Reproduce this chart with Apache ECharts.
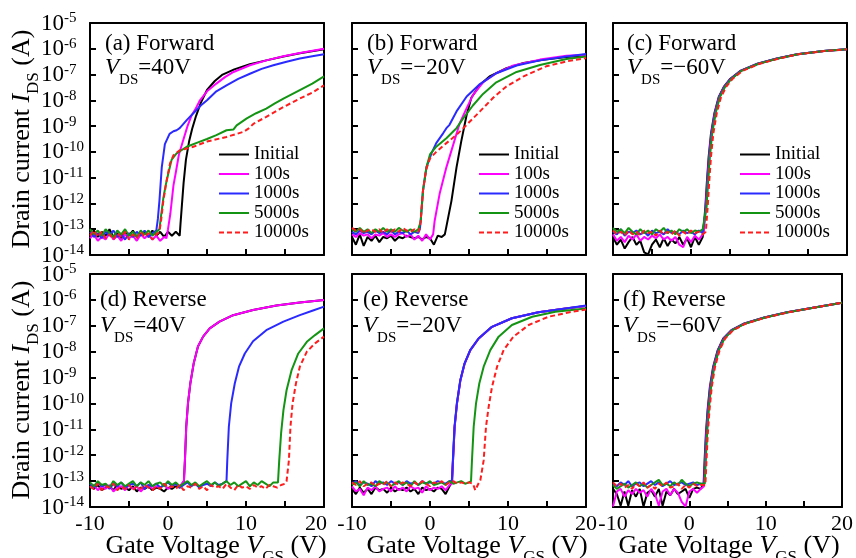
<!DOCTYPE html>
<html><head><meta charset="utf-8">
<script src="https://cdn.jsdelivr.net/npm/echarts@6/dist/echarts.min.js"></script>
<style>html,body{margin:0;padding:0;background:#fff}#c{width:856px;height:558px}</style>
</head><body><div id="c"></div>
<script>
// ---- sample positions (V) for the off-state floor ----
const floorV = [-10,-9.5,-9,-8.5,-8,-7.5,-7,-6.5,-6,-5.5,-5,-4.5,-4,-3.5,-3,-2.5,-2,-1.5,-1,-0.5,0,0.5,1,1.5,2,2.5,3,3.5,4,4.5,5,5.5,6,6.5,7,7.5,8,8.5,9,9.5,10,10.5,11,11.5,12,12.5,13,13.5,14,14.5,15];
const seriesNames = ['Initial','100s','1000s','5000s','10000s'];
const xTickLabels = ['-10','0','10','20'];
// values: log10(I_DS [A])
// (a) Forward VDS=40V
const aInitF = [-13.2,-13.05,-13.3,-13.1,-13.25,-13.0,-13.3,-13.15,-13.35,-13.1,-13.25,-13.05,-13.3,-13.2,-13.1,-13.3,-13.05,-13.25,-13.1,-13.3,-13.1,-13.25,-13.1,-13.25];
const aInitR = [[1.6,-12.8],[1.8,-12.0],[2.0,-11.2],[2.3,-10.3],[2.7,-9.6],[3.1,-9.1],[3.6,-8.6],[4.2,-8.1],[5,-7.6],[6,-7.25],[7,-7.0],[8.5,-6.8],[10.5,-6.6],[12.6,-6.45],[14.8,-6.3],[16.9,-6.17],[20,-6.02]];
const a100F = [-13.35,-13.2,-13.45,-13.3,-13.4,-13.15,-13.4,-13.25,-13.45,-13.2,-13.35,-13.25,-13.45,-13.2,-13.35,-13.2,-13.4,-13.25,-13.45,-13.3];
const a100R = [[-0.2,-13.35],[0,-13.0],[0.3,-12.4],[0.7,-11.3],[1.0,-10.8],[1.4,-10.1],[1.9,-9.6],[2.5,-9.0],[3.0,-8.6],[3.5,-8.35],[4.1,-8.0],[5,-7.65],[6.2,-7.35],[7.3,-7.1],[8.4,-6.9],[10.5,-6.64],[12.6,-6.45],[14.8,-6.29],[16.9,-6.16],[20,-6.0]];
const a1000F = [-13.1,-13.3,-13.15,-13.35,-13.1,-13.25,-13.05,-13.3,-13.2,-13.4,-13.15,-13.3,-13.1,-13.25,-13.05,-13.3,-13.15,-13.05];
const a1000R = [[-1.3,-12.6],[-1.1,-11.9],[-0.8,-10.6],[-0.4,-9.7],[0.2,-9.3],[0.7,-9.2],[1.1,-9.16],[1.5,-9.08],[2.4,-8.77],[3.25,-8.5],[4.2,-8.2],[5,-8.0],[6.2,-7.65],[7.5,-7.42],[9,-7.17],[10.5,-6.97],[12,-6.78],[13.5,-6.64],[15.2,-6.5],[16.9,-6.38],[18.5,-6.29],[20,-6.21]];
const a5000F = [-13.0,-13.2,-13.05,-13.25,-13.0,-13.15,-13.3,-13.05,-13.2,-13.0,-13.25,-13.1,-13.3,-13.05,-13.2,-13.05,-13.25,-13.1];
const a5000R = [[-1.1,-13.0],[-0.9,-12.5],[-0.6,-11.8],[-0.3,-11.3],[0.04,-10.84],[0.47,-10.3],[1.1,-10.06],[2.4,-9.8],[4.1,-9.6],[5,-9.5],[6.2,-9.35],[7.5,-9.16],[8.4,-9.13],[8.8,-8.97],[10.1,-8.7],[11.3,-8.5],[12.6,-8.32],[13.7,-8.12],[14.8,-7.93],[16.9,-7.6],[18.5,-7.35],[20,-7.07]];
const a10000F = [-13.25,-13.05,-13.3,-13.1,-13.35,-13.2,-13.4,-13.15,-13.3,-13.1,-13.4,-13.2,-13.35,-13.1,-13.3,-13.15,-13.4,-13.2];
const a10000R = [[-1.1,-13.1],[-0.9,-12.7],[-0.6,-11.9],[-0.17,-11.1],[0.26,-10.45],[0.7,-10.13],[1.5,-9.94],[3.25,-9.8],[5,-9.6],[7.5,-9.42],[9.7,-9.22],[10.3,-9.1],[11,-8.9],[12.6,-8.64],[14.8,-8.26],[16.9,-7.93],[18.5,-7.7],[20,-7.42]];
// (b) Forward VDS=-20V
const bInitF = [-13.3,-13.6,-13.2,-13.65,-13.3,-13.45,-13.25,-13.5,-13.3,-13.35,-13.25,-13.45,-13.3,-13.35,-13.25,-13.3,-13.35,-13.3,-13.4,-13.3,-13.35,-13.6,-13.25,-13.3];
const bInitR = [[1.9,-13.2],[2.1,-12.9],[2.75,-11.9],[3.4,-10.6],[4.0,-9.6],[4.7,-8.56],[5.3,-7.9],[6.4,-7.4],[7.7,-7.06],[9.8,-6.75],[12,-6.55],[14.5,-6.43],[17.5,-6.32],[20,-6.25]];
const b100F = [-13.2,-13.3,-13.15,-13.25,-13.2,-13.35,-13.2,-13.25,-13.15,-13.3,-13.2,-13.3,-13.2,-13.15,-13.3,-13.2,-13.4,-13.25,-13.45,-13.2,-13.4];
const b100R = [[0.4,-13.2],[0.6,-12.67],[1.25,-11.6],[2.1,-10.6],[3.0,-9.7],[3.8,-8.9],[4.7,-8.3],[5.5,-7.8],[6.8,-7.3],[8.5,-6.95],[10.7,-6.65],[14.1,-6.42],[17.5,-6.27],[20,-6.23]];
const b1000F = [-13.1,-13.2,-13.05,-13.15,-13.1,-13.2,-13.05,-13.15,-13.1,-13.2,-13.05,-13.2,-13.1,-13.15,-13.05,-13.2,-13.1,-13.15];
const b1000R = [[-1.3,-13.0],[-1.2,-12.7],[-0.9,-11.5],[-0.46,-10.6],[0.2,-10.05],[0.8,-9.66],[1.7,-9.27],[2.1,-9.08],[2.5,-8.95],[3.4,-8.43],[4.7,-7.85],[6.4,-7.37],[8.5,-6.95],[11.1,-6.65],[14.1,-6.45],[17.5,-6.3],[20,-6.2]];
const b5000F = [-13.0,-13.1,-12.95,-13.1,-13.0,-13.15,-13.0,-13.1,-12.95,-13.1,-13.0,-13.1,-12.95,-13.05,-13.1,-13.0,-13.1,-13.0];
const b5000R = [[-1.3,-12.95],[-1.2,-12.7],[-0.9,-11.5],[-0.46,-10.6],[0.0,-10.1],[0.8,-9.8],[2.1,-9.47],[3.0,-9.2],[3.4,-9.08],[4.25,-8.7],[5.5,-8.2],[6.8,-7.75],[8.5,-7.3],[11.1,-6.9],[14.1,-6.63],[17.5,-6.4],[20,-6.3]];
const b10000F = [-12.95,-13.05,-13.0,-13.15,-13.05,-13.0,-13.1,-13.0,-13.15,-13.0,-13.1,-13.0,-13.1,-12.95,-13.05,-13.1,-13.0,-13.1];
const b10000R = [[-1.3,-12.95],[-1.2,-12.7],[-0.9,-11.5],[-0.5,-10.7],[0.0,-10.25],[0.8,-10.0],[2.1,-9.66],[3.4,-9.34],[4.7,-8.95],[6.4,-8.43],[8.1,-7.9],[9.8,-7.46],[12.0,-7.07],[14.9,-6.68],[17.5,-6.49],[20,-6.36]];
// (c) Forward VDS=-60V
const cInitF = [-13.3,-13.6,-13.4,-13.75,-13.5,-13.3,-13.6,-13.45,-13.9,-13.98,-13.6,-13.4,-13.7,-13.35,-13.65,-13.4,-13.55,-13.3,-13.6,-13.35,-13.7,-13.3,-13.6,-13.3];
const cInitR = [[1.6,-13.05],[1.84,-12.13],[2.05,-11.1],[2.26,-10.2],[2.56,-9.29],[3.0,-8.5],[3.55,-7.87],[4.2,-7.48],[5.04,-7.16],[6.3,-6.86],[8.5,-6.58],[11.0,-6.38],[13.6,-6.21],[17.0,-6.09],[20,-6.02]];
const c100F = [-13.2,-13.45,-13.3,-13.5,-13.25,-13.4,-13.2,-13.45,-13.3,-13.4,-13.25,-13.35,-13.2,-13.4,-13.3,-13.45,-13.3,-13.6,-13.7,-13.3,-13.5,-13.25,-13.4,-13.2];
const c100R = [[1.65,-13.1],[1.89,-12.13],[2.1,-11.1],[2.31,-10.2],[2.61,-9.29],[3.05,-8.5],[3.6,-7.87],[4.25,-7.48],[5.1,-7.16],[6.35,-6.86],[8.55,-6.58],[11.05,-6.38],[13.6,-6.21],[17.0,-6.09],[20,-6.02]];
const c1000F = [-13.1,-13.2,-13.0,-13.25,-13.1,-13.15,-13.05,-13.2,-13.1,-13.25,-13.05,-13.15,-13.1,-13.2,-13.0,-13.15,-13.1,-13.2,-13.05,-13.15,-13.1,-13.2,-13.05,-13.15];
const c1000R = [[1.7,-13.1],[1.94,-12.13],[2.15,-11.1],[2.36,-10.2],[2.66,-9.29],[3.1,-8.5],[3.65,-7.87],[4.3,-7.48],[5.14,-7.16],[6.4,-6.86],[8.6,-6.58],[11.1,-6.38],[13.7,-6.21],[17.0,-6.09],[20,-6.02]];
const c5000F = [-12.95,-13.1,-13.0,-13.15,-12.95,-13.1,-13.2,-13.0,-13.15,-13.05,-13.2,-13.0,-13.1,-12.95,-13.15,-13.05,-13.2,-13.0,-13.1,-13.0,-13.15,-13.05,-13.1,-13.0];
const c5000R = [[1.75,-13.05],[1.99,-12.13],[2.2,-11.1],[2.41,-10.2],[2.71,-9.29],[3.15,-8.5],[3.7,-7.87],[4.35,-7.48],[5.2,-7.16],[6.45,-6.86],[8.65,-6.58],[11.15,-6.38],[13.7,-6.21],[17.0,-6.09],[20,-6.02]];
const c10000F = [-13.05,-13.2,-13.1,-13.25,-13.05,-13.2,-13.1,-13.25,-13.05,-13.15,-13.1,-13.25,-13.05,-13.2,-13.1,-13.2,-13.05,-13.25,-13.1,-13.2,-13.05,-13.15,-13.1,-13.2];
const c10000R = [[1.9,-13.1],[2.14,-12.13],[2.35,-11.1],[2.56,-10.2],[2.86,-9.29],[3.3,-8.5],[3.85,-7.87],[4.5,-7.48],[5.35,-7.16],[6.6,-6.86],[8.8,-6.58],[11.3,-6.38],[13.8,-6.21],[17.1,-6.09],[20,-6.02]];
// (d) Reverse VDS=40V
const dInitF = [-13.2,-13.3,-13.15,-13.35,-13.25,-13.2,-13.35,-13.15,-13.3,-13.25,-13.35,-13.2,-13.4,-13.25,-13.3,-13.2,-13.35,-13.25,-13.3,-13.4,-13.25,-13.3,-13.2,-13.25];
const dInitR = [[2.04,-13.0],[2.17,-12.2],[2.34,-10.9],[2.56,-10.0],[2.86,-9.23],[3.29,-8.46],[3.84,-7.8],[4.5,-7.42],[5.35,-7.1],[6.6,-6.84],[8.35,-6.59],[10.9,-6.39],[13.9,-6.22],[16.9,-6.1],[20,-6.0]];
const d100F = [-13.25,-13.15,-13.35,-13.2,-13.3,-13.15,-13.4,-13.25,-13.2,-13.35,-13.15,-13.3,-13.2,-13.4,-13.25,-13.15,-13.3,-13.2,-13.25,-13.15,-13.3,-13.2,-13.1,-13.2];
const d100R = [[2.04,-13.0],[2.17,-12.2],[2.34,-10.9],[2.56,-10.0],[2.86,-9.23],[3.29,-8.46],[3.84,-7.8],[4.5,-7.42],[5.35,-7.1],[6.6,-6.84],[8.35,-6.59],[10.9,-6.39],[13.9,-6.22],[16.9,-6.1],[20,-6.0]];
const d1000F = [-13.1,-13.25,-13.05,-13.2,-13.15,-13.3,-13.1,-13.2,-13.05,-13.25,-13.15,-13.1,-13.2,-13.05,-13.3,-13.15,-13.2,-13.1,-13.25,-13.15,-13.05,-13.2,-13.1,-13.25,-13.15,-13.05,-13.2,-13.1,-13.25,-13.15,-13.1,-13.2,-13.05,-13.15,-13.1];
const d1000R = [[7.5,-13.0],[7.6,-12.2],[7.8,-10.9],[8.1,-10.0],[8.56,-9.23],[9.1,-8.58],[9.85,-8.07],[10.9,-7.6],[12.6,-7.17],[14.8,-6.84],[16.9,-6.59],[18.5,-6.42],[20,-6.26]];
const d5000F = [-13.05,-13.2,-13.0,-13.15,-13.1,-13.25,-13.0,-13.15,-13.05,-13.2,-13.1,-13.0,-13.2,-13.05,-13.15,-13.0,-13.2,-13.1,-13.05,-13.2,-13.0,-13.15,-13.05,-13.2,-13.1,-13.0,-13.15,-13.05,-13.2,-13.1,-13.0,-13.15,-13.05,-13.2,-13.1,-13.0,-13.15,-13.05,-13.2,-13.1,-13.0,-13.2,-13.05,-13.15,-13.0,-13.1,-13.2,-13.05];
const d5000R = [[14.1,-13.05],[14.26,-12.2],[14.5,-11.15],[14.8,-10.26],[15.2,-9.49],[15.85,-8.71],[16.7,-8.07],[17.8,-7.62],[18.85,-7.36],[20,-7.1]];
const d10000F = [-13.2,-13.3,-13.1,-13.35,-13.2,-13.25,-13.1,-13.35,-13.2,-13.3,-13.15,-13.35,-13.2,-13.3,-13.15,-13.25,-13.35,-13.2,-13.3,-13.1,-13.25,-13.2,-13.3,-13.15,-13.35,-13.2,-13.25,-13.1,-13.3,-13.2,-13.35,-13.15,-13.25,-13.2,-13.3,-13.1,-13.25,-13.35,-13.15,-13.25,-13.2,-13.3,-13.15,-13.25,-13.2,-13.3,-13.15,-13.2,-13.25,-13.15,-13.1];
const d10000R = [[15.2,-13.0],[15.4,-12.95],[15.5,-12.2],[15.7,-10.9],[15.97,-10.0],[16.4,-9.23],[16.9,-8.58],[17.8,-8.0],[18.85,-7.68],[20,-7.42]];
// (e) Reverse VDS=-20V
const eInitF = [-13.3,-13.5,-13.25,-13.45,-13.3,-13.5,-13.25,-13.35,-13.3,-13.45,-13.25,-13.4,-13.3,-13.35,-13.25,-13.4,-13.3,-13.5,-13.25,-13.35,-13.3,-13.4,-13.25,-13.3,-13.5,-13.2];
const eInitR = [[2.82,-13.05],[2.95,-12.2],[3.16,-10.9],[3.46,-10.0],[3.9,-9.1],[4.44,-8.46],[5.17,-7.94],[6.24,-7.49],[7.95,-7.04],[10.5,-6.71],[13.9,-6.48],[17.4,-6.33],[20,-6.24]];
const e100F = [-13.2,-13.4,-13.3,-13.55,-13.25,-13.35,-13.2,-13.4,-13.3,-13.25,-13.4,-13.2,-13.35,-13.25,-13.4,-13.2,-13.3,-13.25,-13.45,-13.2,-13.35,-13.25,-13.3,-13.2,-13.35,-13.15];
const e100R = [[2.82,-13.1],[2.95,-12.2],[3.16,-10.9],[3.46,-10.0],[3.9,-9.1],[4.44,-8.46],[5.17,-7.94],[6.24,-7.49],[7.95,-7.04],[10.5,-6.71],[13.9,-6.48],[17.4,-6.33],[20,-6.24]];
const e1000F = [-13.1,-13.0,-13.15,-13.05,-13.1,-13.2,-13.0,-13.1,-13.05,-13.15,-13.0,-13.1,-13.05,-13.15,-13.0,-13.1,-13.05,-13.15,-13.0,-13.1,-13.05,-13.1,-13.0,-13.05,-13.1,-13.0];
const e1000R = [[2.8,-13.0],[2.93,-12.2],[3.14,-10.9],[3.44,-10.0],[3.88,-9.1],[4.42,-8.46],[5.15,-7.94],[6.22,-7.49],[7.93,-7.04],[10.5,-6.71],[13.9,-6.48],[17.4,-6.33],[20,-6.22]];
const e5000F = [-13.15,-13.05,-13.2,-13.0,-13.15,-13.1,-13.2,-13.0,-13.1,-13.05,-13.2,-13.1,-13.0,-13.15,-13.05,-13.2,-13.0,-13.15,-13.05,-13.1,-13.0,-13.15,-13.1,-13.05,-13.15,-13.0,-13.1,-13.05,-13.0,-13.1,-13.05];
const e5000R = [[5.26,-13.0],[5.38,-12.2],[5.6,-10.9],[5.9,-10.0],[6.32,-9.23],[6.88,-8.58],[7.73,-7.94],[8.8,-7.42],[10.5,-6.97],[13.1,-6.65],[16.07,-6.46],[20,-6.33]];
const e10000F = [-13.05,-13.15,-13.0,-13.2,-13.1,-13.05,-13.2,-13.1,-13.15,-13.0,-13.2,-13.05,-13.15,-13.05,-13.1,-13.2,-13.05,-13.15,-13.0,-13.1,-13.2,-13.05,-13.1,-13.0,-13.15,-13.05,-13.0,-13.1,-13.05,-13.1,-13.05,-13.1];
const e10000R = [[5.8,-13.35],[6.2,-13.1],[6.45,-12.97],[6.67,-12.95],[6.88,-12.2],[7.18,-10.9],[7.52,-10.13],[7.95,-9.36],[8.6,-8.58],[9.44,-7.94],[10.7,-7.42],[12.65,-6.97],[15.2,-6.65],[18.2,-6.46],[20,-6.37]];
// (f) Reverse VDS=-60V
const fInitF = [-13.3,-13.5,-13.95,-13.4,-13.95,-13.35,-13.6,-13.3,-13.98,-13.45,-13.35,-13.6,-13.3,-13.95,-13.4,-13.55,-13.3,-13.5,-13.4,-13.3,-13.65,-13.3,-13.25,-13.3];
const fInitR = [[1.87,-13.1],[2.0,-12.2],[2.17,-11.16],[2.39,-10.26],[2.69,-9.36],[3.12,-8.58],[3.72,-7.94],[4.44,-7.49],[5.5,-7.17],[7.2,-6.91],[9.8,-6.68],[12.8,-6.48],[16.2,-6.3],[20,-6.11]];
const f100F = [-13.98,-13.4,-13.3,-13.6,-13.35,-13.5,-13.3,-13.45,-13.35,-13.6,-13.3,-13.5,-13.95,-13.4,-13.3,-13.55,-13.3,-13.45,-13.8,-13.98,-13.4,-13.3,-13.45,-13.3];
const f100R = [[1.92,-13.2],[2.05,-12.2],[2.22,-11.16],[2.44,-10.26],[2.74,-9.36],[3.17,-8.58],[3.77,-7.94],[4.5,-7.49],[5.55,-7.17],[7.25,-6.91],[9.85,-6.68],[12.8,-6.48],[16.2,-6.3],[20,-6.11]];
const f1000F = [-13.1,-13.2,-13.05,-13.15,-13.0,-13.2,-13.1,-13.05,-13.2,-13.1,-13.0,-13.15,-13.05,-13.2,-13.1,-13.0,-13.15,-13.1,-13.05,-13.15,-13.1,-13.05,-13.15,-13.1];
const f1000R = [[1.97,-13.1],[2.1,-12.2],[2.27,-11.16],[2.49,-10.26],[2.79,-9.36],[3.22,-8.58],[3.82,-7.94],[4.55,-7.49],[5.6,-7.17],[7.3,-6.91],[9.9,-6.68],[12.9,-6.48],[16.2,-6.3],[20,-6.11]];
const f5000F = [-13.15,-13.3,-13.2,-13.1,-13.25,-13.15,-13.05,-13.2,-13.1,-13.25,-13.15,-13.05,-12.95,-13.15,-13.1,-13.2,-13.05,-13.15,-12.95,-13.1,-13.2,-13.1,-13.05,-13.1];
const f5000R = [[2.0,-13.1],[2.15,-12.2],[2.32,-11.16],[2.54,-10.26],[2.84,-9.36],[3.27,-8.58],[3.87,-7.94],[4.6,-7.49],[5.65,-7.17],[7.35,-6.91],[9.95,-6.68],[12.9,-6.48],[16.3,-6.3],[20,-6.11]];
const f10000F = [-13.05,-13.2,-13.1,-13.25,-13.15,-13.3,-13.1,-13.2,-13.05,-13.25,-13.15,-13.3,-13.1,-13.2,-13.05,-13.25,-13.2,-13.1,-13.3,-13.15,-13.25,-13.1,-13.2,-13.15];
const f10000R = [[2.1,-13.15],[2.25,-12.2],[2.42,-11.16],[2.64,-10.26],[2.94,-9.36],[3.37,-8.58],[3.97,-7.94],[4.7,-7.49],[5.75,-7.17],[7.45,-6.91],[10.05,-6.68],[13.0,-6.48],[16.3,-6.3],[20,-6.11]];

const panelTitles = ['(a) Forward','(b) Forward','(c) Forward','(d) Reverse','(e) Reverse','(f) Reverse'];
const panelVds = ['=40V','=\u221220V','=\u221260V','=40V','=\u221220V','=\u221260V'];

const panels = [
  [[aInitF,aInitR],[a100F,a100R],[a1000F,a1000R],[a5000F,a5000R],[a10000F,a10000R]],
  [[bInitF,bInitR],[b100F,b100R],[b1000F,b1000R],[b5000F,b5000R],[b10000F,b10000R]],
  [[cInitF,cInitR],[c100F,c100R],[c1000F,c1000R],[c5000F,c5000R],[c10000F,c10000R]],
  [[dInitF,dInitR],[d100F,d100R],[d1000F,d1000R],[d5000F,d5000R],[d10000F,d10000R]],
  [[eInitF,eInitR],[e100F,e100R],[e1000F,e1000R],[e5000F,e5000R],[e10000F,e10000R]],
  [[fInitF,fInitR],[f100F,f100R],[f1000F,f1000R],[f5000F,f5000R],[f10000F,f10000R]]
];

const FONT = '"Liberation Serif","Times New Roman",serif';
const colors = ['#000000','#ff00ff','#2a2aff','#139413','#ff1c1c'];
const gridPos = [
  {left:90, top:23, width:234, height:232},
  {left:352, top:23, width:234, height:232},
  {left:613, top:23, width:234, height:232},
  {left:90, top:274, width:234, height:233},
  {left:352, top:274, width:234, height:233},
  {left:613, top:274, width:234, height:233}
];

function build(floor, rise) {
  const pts = floor.map((e, i) => [floorV[i], Math.pow(10, e)]);
  rise.forEach(p => pts.push([p[0], Math.pow(10, p[1])]));
  return pts;
}
function axLine() { return {show:true, onZero:false, lineStyle:{color:'#000', width:2}}; }
function tick() { return {show:true, inside:true, length:6, interval:0, lineStyle:{color:'#000', width:2}}; }

const grid = gridPos.map(g => Object.assign({show:false}, g));
const xAxis = [];
const yAxis = [];
gridPos.forEach((g, i) => {
  xAxis.push({
    type:'value', gridIndex:i, position:'bottom', min:-10, max:20, interval:5,
    axisLine:axLine(), splitLine:{show:false}, axisTick:tick(),
    axisLabel:{show: i >= 3, margin:6, fontSize:22, fontFamily:FONT, color:'#000',
      formatter: v => {
        const s = String(v);
        if (xTickLabels.indexOf(s) < 0) return '';
        if (i === 3 && s === '20') return '{l|20}';
        return s;
      },
      rich:{l:{fontSize:22, fontFamily:FONT, color:'#000', padding:[0,16,0,0]}}}
  });
  yAxis.push({
    type:'log', logBase:10, gridIndex:i, position:'left', min:1e-14, max:1e-5, splitNumber:9,
    axisLine:axLine(), splitLine:{show:false}, axisTick:tick(),
    axisLabel:{show: i % 3 === 0, align:'left', margin:49, showMinLabel:true, showMaxLabel:true,
      formatter: v => '{b|10}{s|' + Math.round(Math.log10(v)) + '}',
      rich:{
        b:{fontSize:23, fontFamily:FONT, color:'#000', lineHeight:24, verticalAlign:'bottom'},
        s:{fontSize:15, fontFamily:FONT, color:'#000', lineHeight:24, verticalAlign:'top'}
      }}
  });
});
// frame: top and right edges of each panel
gridPos.forEach((g, i) => {
  xAxis.push({type:'value', gridIndex:i, position:'top', min:-10, max:20,
    axisLine:axLine(), axisTick:{show:false}, axisLabel:{show:false}, splitLine:{show:false}});
  yAxis.push({type:'value', gridIndex:i, position:'right', min:0, max:1,
    axisLine:axLine(), axisTick:{show:false}, axisLabel:{show:false}, splitLine:{show:false}});
});

const series = [];
panels.forEach((p, pi) => {
  p.forEach((c, ci) => {
    series.push({
      type:'line', name:seriesNames[ci], xAxisIndex:pi, yAxisIndex:pi,
      data: build(c[0], c[1]), symbol:'none', showSymbol:false, animation:false,
      lineStyle:{color:colors[ci], width:2, type: ci === 4 ? [5,3] : 'solid'},
      itemStyle:{color:colors[ci]}
    });
  });
});

const legendLeft = [218, 478, 739];
const legend = legendLeft.map(l => ({
  left:l, top:145, padding:0, orient:'vertical', itemWidth:30, itemHeight:10, itemGap:0.5,
  selectedMode:false, data:seriesNames,
  itemStyle:{opacity:0, borderWidth:0},
  textStyle:{fontSize:19, fontFamily:FONT, color:'#000', lineHeight:18}
}));

const RICH = {
  i:{fontStyle:'italic', fontSize:23, fontFamily:FONT, fill:'#000', lineHeight:30},
  s:{fontSize:15, fontFamily:FONT, fill:'#000', lineHeight:30, padding:[24,0,0,0]},
  n:{fontSize:23, fontFamily:FONT, fill:'#000', lineHeight:30}
};
const RICH2 = {
  i:{fontStyle:'italic', fontSize:26, fontFamily:FONT, fill:'#000', lineHeight:34},
  s:{fontSize:17, fontFamily:FONT, fill:'#000', lineHeight:34, padding:[24,0,0,0]},
  n:{fontSize:26, fontFamily:FONT, fill:'#000', lineHeight:34}
};
const titleX = [105, 367, 627, 100, 363, 623];
const titleY = [44, 44, 44, 300, 300, 300];
const vdsY = [68, 68, 68, 326, 326, 326];
const graphic = [];
panelTitles.forEach((t, i) => {
  graphic.push({type:'text', x:titleX[i], y:titleY[i], style:{text:t, fontSize:23, fontFamily:FONT, fill:'#000', textAlign:'left', textVerticalAlign:'middle'}});
  graphic.push({type:'text', x:titleX[i], y:vdsY[i], style:{text:'{i|V}{s|DS}{n|' + panelVds[i] + '}', fontSize:23, fontFamily:FONT, fill:'#000', textAlign:'left', textVerticalAlign:'middle', rich:RICH}});
});
[139, 390].forEach(cy => {
  graphic.push({type:'text', x:22, y:cy, rotation:Math.PI/2, style:{text:'{n|Drain current }{i|I}{s|DS}{n| (A)}', fontSize:26, fontFamily:FONT, fill:'#000', textAlign:'center', textVerticalAlign:'middle', rich:RICH2}});
});
[216, 477, 729].forEach(cx => {
  graphic.push({type:'text', x:cx, y:546, style:{text:'{n|Gate Voltage }{i|V}{s|GS}{n| (V)}', fontSize:26, fontFamily:FONT, fill:'#000', textAlign:'center', textVerticalAlign:'middle', rich:RICH2}});
});

const chart = echarts.init(document.getElementById('c'), null, {renderer:'canvas'});
chart.setOption({animation:false, backgroundColor:'#fff', grid, xAxis, yAxis, series, legend, graphic});
</script></body></html>
